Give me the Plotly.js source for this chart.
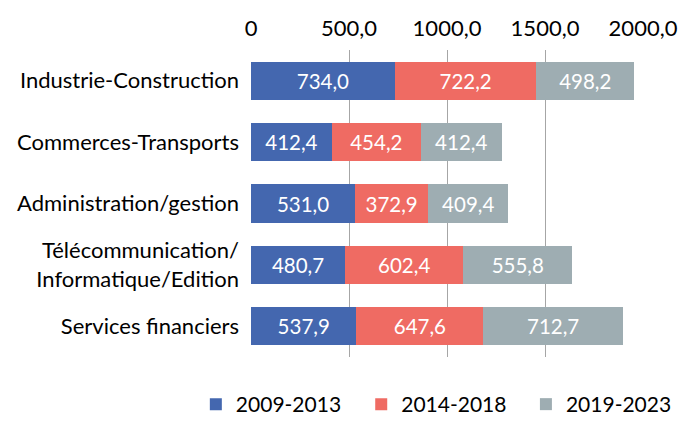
<!DOCTYPE html>
<html>
<head>
<meta charset="utf-8">
<script src="https://cdn.plot.ly/plotly-3.0.1.min.js"></script>
<style>html,body{margin:0;padding:0;background:#fff}#chart{width:692px;height:425px}</style>
</head>
<body>
<div id="chart"></div>
<script>
const categories = ["Industrie-Construction", "Commerces-Transports", "Administration/gestion", "Télécommunication/<br>Informatique/Edition", "Services financiers"];
const seriesNames = ["2009-2013", "2014-2018", "2019-2023"];
const s2009 = [734.0, 412.4, 531.0, 480.7, 537.9];
const s2014 = [722.2, 454.2, 372.9, 602.4, 647.6];
const s2019 = [498.2, 412.4, 409.4, 555.8, 712.7];
const tickVals = [0, 500, 1000, 1500, 2000];
const tickText = ["0", "500,0", "1000,0", "1500,0", "2000,0"];
const colors = ["#4467AF", "#EF6B63", "#9EADB2"];

const font = "Lato, 'Open Sans', sans-serif";
const legendIds = ["legend", "legend2", "legend3"];
const legendX = [0.283, 0.522, 0.760];
const data = [s2009, s2014, s2019].map((vals, i) => ({
  type: "bar", orientation: "h", name: seriesNames[i],
  x: vals, y: categories, legend: legendIds[i],
  marker: {color: colors[i]},
  texttemplate: "%{x:.1f}", textposition: "inside", insidetextanchor: "middle",
  textfont: {color: "#ffffff", size: 20.5, family: font},
  hoverinfo: "x+y"
}));

const layout = {
  width: 692, height: 425,
  margin: {l: 251, r: 49, t: 50, b: 68},
  barmode: "stack", bargap: 0.38,
  separators: ", ",
  paper_bgcolor: "#fff", plot_bgcolor: "#fff",
  font: {family: font, size: 22, color: "#000"},
  xaxis: {side: "top", range: [0, 2000], tickvals: tickVals, ticktext: tickText,
    showgrid: true, gridcolor: "#a6a6a6", gridwidth: 1, zeroline: false,
    showline: false, ticks: "", tickfont: {size: 22}, ticklabelstandoff: 9, automargin: false},
  yaxis: {autorange: "reversed", ticks: "", showline: false, tickfont: {size: 22},
    ticklabelstandoff: 11, automargin: false},
  showlegend: true
};
legendIds.forEach((id, i) => {
  layout[id] = {orientation: "h", xref: "container", yref: "container", x: legendX[i], xanchor: "left",
    y: -0.015, yanchor: "bottom", font: {size: 21}, bgcolor: "rgba(0,0,0,0)"};
});
Plotly.newPlot("chart", data, layout, {displayModeBar: false, staticPlot: true});
</script>
</body>
</html>
